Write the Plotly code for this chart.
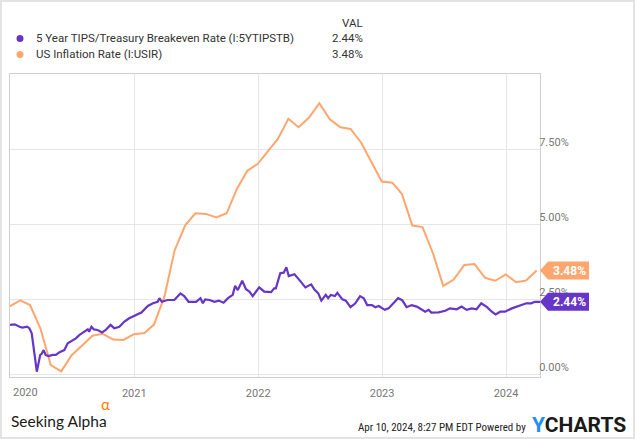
import plotly.graph_objects as go
import pandas as pd

# ---------------- data ----------------
tips_dates = [
    "2020-01-01", "2020-01-15", "2020-01-29", "2020-02-07", "2020-02-20", "2020-02-27",
    "2020-03-05", "2020-03-11", "2020-03-18", "2020-03-20", "2020-03-25", "2020-03-30",
    "2020-04-03", "2020-04-09", "2020-04-15", "2020-04-23", "2020-05-06", "2020-05-15",
    "2020-05-26", "2020-06-09", "2020-06-19", "2020-07-03", "2020-07-13", "2020-07-23",
    "2020-08-07", "2020-08-17", "2020-08-21", "2020-08-28", "2020-09-04", "2020-09-15",
    "2020-09-28", "2020-10-09", "2020-10-23", "2020-11-03", "2020-11-18", "2020-12-03",
    "2020-12-17", "2020-12-31", "2021-01-22", "2021-02-10", "2021-02-25", "2021-03-11",
    "2021-03-16", "2021-03-23", "2021-04-09", "2021-04-29", "2021-05-17", "2021-05-28",
    "2021-06-10", "2021-07-02", "2021-07-15", "2021-07-22", "2021-07-29", "2021-08-11",
    "2021-08-25", "2021-09-07", "2021-09-21", "2021-10-04", "2021-10-18", "2021-10-25",
    "2021-11-02", "2021-11-15", "2021-11-26", "2021-12-06", "2021-12-16", "2022-01-04",
    "2022-01-19", "2022-02-08", "2022-02-17", "2022-02-22", "2022-03-07", "2022-03-17",
    "2022-03-25", "2022-04-01", "2022-04-18", "2022-05-02", "2022-05-20", "2022-06-06",
    "2022-06-15", "2022-06-27", "2022-07-06", "2022-07-19", "2022-07-26", "2022-08-03",
    "2022-08-15", "2022-08-22", "2022-09-06", "2022-09-16", "2022-09-30", "2022-10-14",
    "2022-10-28", "2022-11-08", "2022-11-18", "2022-12-02", "2022-12-12", "2022-12-22",
    "2023-01-09", "2023-01-20", "2023-02-03", "2023-02-17", "2023-02-28", "2023-03-02",
    "2023-03-14", "2023-03-29", "2023-04-13", "2023-04-28", "2023-05-08", "2023-05-18",
    "2023-05-26", "2023-06-16", "2023-07-06", "2023-07-20", "2023-08-09", "2023-08-23",
    "2023-09-07", "2023-09-22", "2023-10-06", "2023-10-20", "2023-11-06", "2023-11-20",
    "2023-12-01", "2023-12-15", "2023-12-29", "2024-01-18", "2024-02-02", "2024-02-16",
    "2024-03-01", "2024-03-15", "2024-03-26", "2024-04-10",
]
tips_values = [
    1.67, 1.69, 1.61, 1.58, 1.61, 1.56,
    1.39, 0.94, 0.39, 0.11, 0.39, 0.67,
    0.70, 0.83, 0.67, 0.63, 0.67, 0.67,
    0.76, 0.83, 1.06, 1.14, 1.22, 1.33,
    1.44, 1.52, 1.44, 1.61, 1.52, 1.50,
    1.42, 1.50, 1.67, 1.56, 1.61, 1.78,
    1.89, 1.96, 2.08, 2.30, 2.39, 2.44,
    2.56, 2.44, 2.50, 2.50, 2.72, 2.63,
    2.44, 2.44, 2.56, 2.39, 2.52, 2.50,
    2.44, 2.48, 2.41, 2.56, 2.67, 2.97,
    2.83, 3.14, 2.86, 2.78, 2.63, 2.92,
    2.78, 2.76, 2.89, 2.89, 3.39, 3.41,
    3.59, 3.30, 3.36, 3.17, 2.92, 3.02,
    2.86, 2.72, 2.48, 2.67, 2.56, 2.67,
    2.63, 2.74, 2.52, 2.48, 2.26, 2.39,
    2.63, 2.56, 2.33, 2.33, 2.26, 2.30,
    2.17, 2.22, 2.39, 2.56, 2.50, 2.48,
    2.26, 2.33, 2.28, 2.17, 2.11, 2.17,
    2.08, 2.09, 2.14, 2.22, 2.19, 2.28,
    2.17, 2.22, 2.19, 2.39, 2.26, 2.11,
    2.02, 2.11, 2.11, 2.22, 2.28, 2.36,
    2.39, 2.39, 2.44, 2.44,
]

# US inflation rate, monthly (Dec 2019 .. Mar 2024), plotted at month end
infl_start = "2019-12-31"
infl_values = [
    2.29,
    2.49, 2.33, 1.54, 0.33, 0.12, 0.65, 0.99, 1.31, 1.37, 1.18, 1.17, 1.36,
    1.40, 1.68, 2.62, 4.16, 4.99, 5.39, 5.37, 5.25, 5.39, 6.22, 6.81, 7.04,
    7.48, 7.87, 8.54, 8.26, 8.58, 9.06, 8.52, 8.26, 8.20, 7.75, 7.11, 6.45,
    6.41, 6.04, 4.98, 4.93, 4.05, 2.97, 3.18, 3.67, 3.70, 3.24, 3.14, 3.35,
    3.09, 3.15, 3.48,
]
infl_dates = pd.date_range(infl_start, periods=len(infl_values), freq="ME")

series_names = ["5 Year TIPS/Treasury Breakeven Rate (I:5YTIPSTB)", "US Inflation Rate (I:USIR)"]
last_values = [tips_values[-1], infl_values[-1]]
colors = ["#6536c8", "#ffa66e"]

x_range = ["2020-01-01", "2024-04-10"]
y_range = [-0.067, 10.033]
x_tickvals = ["2020-01-01", "2021-01-01", "2022-01-01", "2023-01-01", "2024-01-01"]
x_ticktext = ["", "2021", "2022", "2023", "2024"]
y_tickvals = [0, 2.5, 5, 7.5]
y_ticktext = ["0.00%", "2.50%", "5.00%", "7.50%"]

# ---------------- layout helpers ----------------
W, H = 635, 439
ML, MR, MT, MB = 10, 95, 74, 62
PW, PH = W - ML - MR, H - MT - MB


def px(x):
    return (x - ML) / PW


def py(y):
    return (H - MB - y) / PH


FONT = "Roboto, Arial, sans-serif"

fig = go.Figure()
fig.add_trace(go.Scatter(x=infl_dates, y=infl_values, mode="lines",
                         line=dict(color=colors[1], width=2), name=series_names[1],
                         hoverinfo="skip"))
fig.add_trace(go.Scatter(x=tips_dates, y=tips_values, mode="lines",
                         line=dict(color=colors[0], width=2.2), name=series_names[0],
                         hoverinfo="skip"))

shapes = []
annotations = []

# value tags on the right
for val, col in zip(last_values, colors):
    shapes.append(dict(type="path", xref="paper", yref="y", xsizemode="pixel", ysizemode="pixel",
                       xanchor=1, yanchor=val,
                       path="M 0 0 L 8 9 L 49 9 L 49 -9 L 8 -9 Z",
                       fillcolor=col, line=dict(width=0), layer="above"))
    annotations.append(dict(x=1, xref="paper", y=val, yref="y", xanchor="center", yanchor="middle",
                            xshift=29, text=f"<b>{val:.2f}%</b>", showarrow=False,
                            font=dict(family=FONT, size=12, color="white")))

# legend block
LEG_SIZE = 11.5
annotations.append(dict(x=px(365), y=py(23), xref="paper", yref="paper", xanchor="right",
                        yanchor="middle", text="VAL", showarrow=False,
                        font=dict(family=FONT, size=LEG_SIZE, color="#333333")))
for i, (name, val, col) in enumerate(zip(series_names, last_values, colors)):
    yy = 38.5 + 16 * i
    shapes.append(dict(type="circle", xref="paper", yref="paper", xsizemode="pixel",
                       ysizemode="pixel", xanchor=px(20), yanchor=py(yy),
                       x0=-3.5, x1=3.5, y0=-3.5, y1=3.5, fillcolor=col, line=dict(width=0)))
    annotations.append(dict(x=px(34), y=py(yy), xref="paper", yref="paper", xanchor="left",
                            yanchor="middle", text=name, showarrow=False,
                            font=dict(family=FONT, size=LEG_SIZE, color="#333333")))
    annotations.append(dict(x=px(365), y=py(yy), xref="paper", yref="paper", xanchor="right",
                            yanchor="middle", text=f"{val:.2f}%", showarrow=False,
                            font=dict(family=FONT, size=LEG_SIZE, color="#333333")))

# first year label (kept inside the frame)
annotations.append(dict(x=px(11), y=py(392), xref="paper", yref="paper", xanchor="left",
                        yanchor="middle", text="2020", showarrow=False,
                        font=dict(family=FONT, size=11, color="#777777")))

# footer
annotations.append(dict(x=px(9), y=py(421), xref="paper", yref="paper", xanchor="left",
                        yanchor="middle", text="Seeking Alpha", showarrow=False,
                        font=dict(family="Lato, 'Open Sans', sans-serif", size=15.5, color="#1a1a1a")))
annotations.append(dict(x=px(99), y=py(404), xref="paper", yref="paper", xanchor="left",
                        yanchor="middle", text="α", showarrow=False,
                        font=dict(family="Lato, sans-serif", size=15, color="#ff7a00")))
annotations.append(dict(x=px(528), y=py(427), xref="paper", yref="paper", xanchor="right",
                        yanchor="middle", text="Apr 10, 2024, 8:27 PM EDT Powered by",
                        showarrow=False,
                        font=dict(family="'Roboto Condensed', 'Liberation Sans Narrow', Roboto, sans-serif",
                                  size=11, color="#222222")))
annotations.append(dict(x=px(530), y=py(425), xref="paper", yref="paper", xanchor="left",
                        yanchor="middle",
                        text="<span style='color:#1e8fff'>Y</span>CHARTS",
                        showarrow=False,
                        font=dict(family="Roboto, sans-serif", size=21, color="#1a1a1a", weight="bold")))

# outer frame of the image
shapes.append(dict(type="rect", xref="paper", yref="paper", layer="below",
                   x0=px(1), x1=px(W - 1), y0=py(H - 1), y1=py(1),
                   line=dict(color="#e3e3e3", width=2), fillcolor="rgba(0,0,0,0)"))

fig.update_layout(
    width=W, height=H,
    margin=dict(l=ML, r=MR, t=MT, b=MB, autoexpand=False),
    paper_bgcolor="white", plot_bgcolor="white",
    showlegend=False,
    shapes=shapes, annotations=annotations,
    font=dict(family=FONT),
)
fig.update_xaxes(range=x_range, type="date", tickvals=x_tickvals, ticktext=x_ticktext,
                 showgrid=True, gridcolor="#e6e6e6", gridwidth=1,
                 showline=True, linecolor="#d0d0d0", linewidth=1, mirror=True,
                 ticks="", ticklabelstandoff=6,
                 tickfont=dict(family=FONT, size=11, color="#777777"),
                 zeroline=False, fixedrange=True, automargin=False)
fig.update_yaxes(range=y_range, side="right", tickvals=y_tickvals, ticktext=y_ticktext,
                 showgrid=True, gridcolor="#e6e6e6", gridwidth=1,
                 showline=True, linecolor="#d0d0d0", linewidth=1, mirror=True,
                 ticks="", ticklabelposition="outside top", ticklabelstandoff=-4,
                 tickfont=dict(family=FONT, size=11, color="#777777"),
                 zeroline=False, fixedrange=True, automargin=False)

fig.write_html("out.html", config={"displayModeBar": False},
               post_script="document.body.style.margin='0px';document.body.style.padding='0px';")
